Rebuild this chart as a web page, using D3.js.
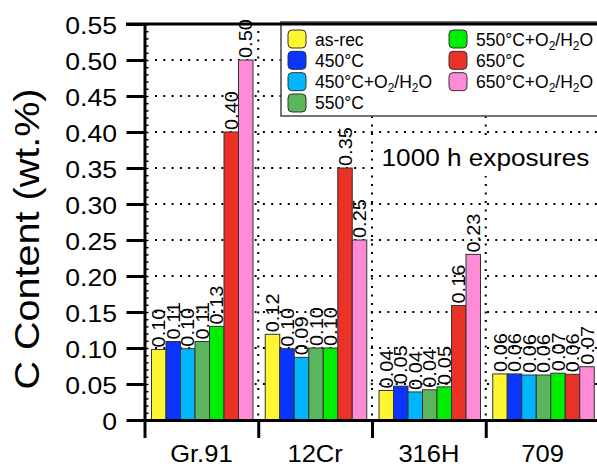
<!DOCTYPE html>
<html><head><meta charset="utf-8">
<script src="https://cdn.jsdelivr.net/npm/d3@7"></script>
<style>
html,body{margin:0;padding:0;background:#fff;}
svg{display:block;font-family:"Liberation Sans",Arial,Helvetica,sans-serif;}
</style>
</head><body>
<svg id="c" width="597" height="468"></svg>
<script>
// ---- data ----
const groups = ["Gr.91", "12Cr", "316H", "709"];
const series = ["as-rec", "450°C", "450°C+O_2/H_2O", "550°C", "550°C+O_2/H_2O", "650°C", "650°C+O_2/H_2O"];
const seriesColors = ["#FFF633", "#0A35FF", "#00B6FF", "#5BB55D", "#00EE00", "#EA3326", "#FF8AD6"];
const valuesGr91 = [0.098, 0.109, 0.099, 0.109, 0.130, 0.400, 0.500];
const values12Cr = [0.119, 0.099, 0.087, 0.100, 0.100, 0.350, 0.250];
const values316H = [0.041, 0.047, 0.039, 0.042, 0.046, 0.159, 0.230];
const values709  = [0.064, 0.064, 0.0625, 0.0625, 0.065, 0.0635, 0.074];
const labelsGr91 = ["0.10", "0.11", "0.10", "0.11", "0.13", "0.40", "0.50"];
const labels12Cr = ["0.12", "0.10", "0.09", "0.10", "0.10", "0.35", "0.25"];
const labels316H = ["0.04", "0.05", "0.04", "0.04", "0.05", "0.16", "0.23"];
const labels709  = ["0.06", "0.06", "0.06", "0.06", "0.07", "0.06", "0.07"];
const yTickValues = [0, 0.05, 0.10, 0.15, 0.20, 0.25, 0.30, 0.35, 0.40, 0.45, 0.50, 0.55];
const yTickLabels = ["0", "0.05", "0.10", "0.15", "0.20", "0.25", "0.30", "0.35", "0.40", "0.45", "0.50", "0.55"];
const yTitle = "C Content (wt.%)";
const annotation = "1000 h exposures";

const groupValues = [valuesGr91, values12Cr, values316H, values709];
const groupLabels = [labelsGr91, labels12Cr, labels316H, labels709];

// ---- layout ----
const svg = d3.select("#c");
const X0 = 144.5, X1 = 599.5, Y0 = 420, Y1 = 24;
const y = d3.scaleLinear().domain([0, 0.55]).range([Y0, Y1]);
const xg = d3.scaleBand().domain(groups).range([X0, X1]).paddingInner(0).paddingOuter(0);
const xb = d3.scaleBand().domain(series).range([7, 108.5]).padding(0);
const xBound = d3.scaleLinear().domain([0, groups.length]).range([X0, X1]);

function addText(sel, str, subSize) {
  // parse "_2" subscripts; shift back on the following normal run
  const parts = str.split(/(_\d)/).filter(p => p);
  let shifted = 0;
  parts.forEach(p => {
    if (p[0] === "_") {
      sel.append("tspan").attr("font-size", subSize).attr("dy", 4).text(p.slice(1));
      shifted = 4;
    } else {
      const t = sel.append("tspan").text(p);
      if (shifted) { t.attr("dy", -shifted); shifted = 0; }
    }
  });
}

// ---- gridlines ----
const grid = svg.append("g");
grid.selectAll("line.h").data(yTickValues.filter(v => v > 0 && v < 0.55)).join("line")
  .attr("x1", 155).attr("x2", 597)
  .attr("y1", d => y(d)).attr("y2", d => y(d))
  .attr("stroke", "#000").attr("stroke-width", 2).attr("stroke-dasharray", "2 6.3");
grid.selectAll("line.v").data(d3.range(1, groups.length)).join("line")
  .attr("x1", d => xBound(d)).attr("x2", d => xBound(d))
  .attr("y1", 31).attr("y2", Y0)
  .attr("stroke", "#000").attr("stroke-width", 2).attr("stroke-dasharray", "2 6.5");

// ---- bars ----
const gBars = svg.append("g").selectAll("g").data(groups).join("g")
  .attr("transform", d => `translate(${xg(d)},0)`);
gBars.each(function(gname, gi) {
  const g = d3.select(this);
  const vals = groupValues[gi];
  g.selectAll("rect").data(vals).join("rect")
    .attr("x", (d, i) => xb(series[i]))
    .attr("y", d => y(d))
    .attr("width", xb.bandwidth())
    .attr("height", d => y(0) - y(d))
    .attr("fill", (d, i) => seriesColors[i])
    .attr("stroke", "#333").attr("stroke-width", 1);
  g.selectAll("text").data(vals).join("text")
    .attr("transform", (d, i) => `translate(${xb(series[i]) + xb.bandwidth() / 2 + 6.6},${y(d) - 2}) rotate(-90) scale(1.08,1)`)
    .attr("font-size", 18.5).attr("fill", "#000")
    .text((d, i) => groupLabels[gi][i]);
});

// ---- annotation ----
svg.append("rect").attr("x", 376).attr("y", 136).attr("width", 221).attr("height", 40).attr("fill", "#fff");
svg.append("text").attr("transform", "translate(485.5,166) scale(1.09,1)")
  .attr("text-anchor", "middle").attr("font-size", 24).text(annotation);

// ---- legend ----
const leg = svg.append("g");
leg.append("rect").attr("x", 281).attr("y", 22).attr("width", 330).attr("height", 94)
  .attr("fill", "#fff").attr("stroke", "#444").attr("stroke-width", 1.5);
series.forEach((s, i) => {
  const col = i < 4 ? 0 : 1, row = i < 4 ? i : i - 4;
  const sx = col === 0 ? 288 : 449, sy = 30 + row * 21.33;
  leg.append("rect").attr("x", sx).attr("y", sy).attr("width", 18).attr("height", 18)
    .attr("rx", 4).attr("fill", seriesColors[i]).attr("stroke", "#333").attr("stroke-width", 1);
  const t = leg.append("text").attr("x", sx + 27).attr("y", sy + 15.5).attr("font-size", 17.5);
  addText(t, s, 12);
});

// ---- axes ----
const axisY = svg.append("g").attr("transform", `translate(${X0},0)`)
  .call(d3.axisLeft(y).tickValues(yTickValues).tickSize(18).tickSizeOuter(0).tickFormat(""));
axisY.selectAll("path,line").attr("stroke", "#000").attr("stroke-width", 3);
const minor = d3.range(0, 56).map(i => i / 100);
const axisMinor = svg.append("g").attr("transform", `translate(${X0},0)`)
  .call(d3.axisRight(y).tickValues(minor).tickSize(4).tickSizeOuter(0).tickFormat(""));
axisMinor.select("path").remove();
axisMinor.selectAll("line").attr("stroke", "#000").attr("stroke-width", 1.5);

svg.append("g").selectAll("text").data(yTickValues).join("text")
  .attr("transform", d => `translate(117,${y(d) + 10}) scale(1.14,1)`)
  .attr("text-anchor", "end").attr("font-size", 23.3)
  .text((d, i) => yTickLabels[i]);

const axisX = svg.append("g").attr("transform", `translate(0,${Y0})`)
  .call(d3.axisBottom(xBound).tickValues(d3.range(0, groups.length + 1)).tickSize(18).tickSizeOuter(0).tickFormat(""));
axisX.selectAll("path,line").attr("stroke", "#000").attr("stroke-width", 3);

svg.append("g").selectAll("text").data(groups).join("text")
  .attr("transform", d => `translate(${xg(d) + xg.bandwidth() / 2},462) scale(1.1,1)`)
  .attr("text-anchor", "middle").attr("font-size", 23.2)
  .text(d => d);

// top frame line
svg.append("line").attr("x1", 126).attr("x2", 597).attr("y1", Y1).attr("y2", Y1)
  .attr("stroke", "#000").attr("stroke-width", 3);

// y title
svg.append("text").attr("transform", "translate(38.5,239) rotate(-90) scale(1.13,1)")
  .attr("text-anchor", "middle").attr("font-size", 35).text(yTitle);
</script>
</body></html>
